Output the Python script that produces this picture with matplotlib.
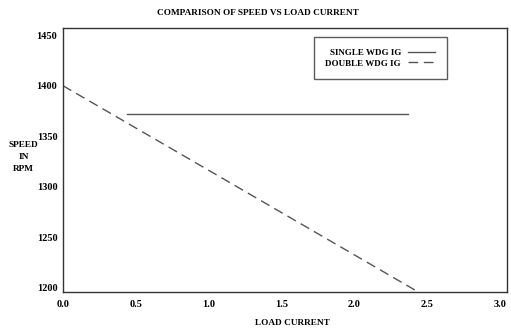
import matplotlib.pyplot as plt

plt.rcParams['font.family'] = ['Liberation Serif', 'DejaVu Serif']

# single winding IG: roughly constant speed
single_i = [0.44, 2.37]
single_n = [1372, 1372]

# double winding IG: falls linearly with load
double_i = [0.0, 2.43]
double_n = [1400, 1197]

xticks = [0.0, 0.5, 1.0, 1.5, 2.0, 2.5, 3.0]
yticks = [1200, 1250, 1300, 1350, 1400, 1450]

fig = plt.figure(figsize=(5.11, 3.33), dpi=100)
ax = fig.add_axes([0.123, 0.123, 0.869, 0.793])

ax.plot(single_i, single_n, '-', color='#555555', lw=1.0, label='SINGLE WDG IG')
ax.plot(double_i, double_n, '--', color='#555555', lw=1.0, dashes=(7, 4),
        label='DOUBLE WDG IG')

ax.set_xlim(0, 3.05)
ax.set_ylim(1196, 1457)
ax.set_xticks(xticks)
ax.set_xticklabels([f'{v:.1f}' for v in xticks])
ax.set_yticks(yticks)
ax.tick_params(length=0, labelsize=7.5)
ax.tick_params(axis='x', pad=6)
ax.tick_params(axis='y', pad=4)
for lab in ax.get_xticklabels() + ax.get_yticklabels():
    lab.set_fontweight('bold')
for s in ax.spines.values():
    s.set_color('#333333')
    s.set_linewidth(1.0)

fig.text(0.505, 0.96, 'COMPARISON OF SPEED VS LOAD CURRENT', ha='center',
         va='center', fontsize=6.7, fontweight='bold')
fig.text(0.573, 0.03, 'LOAD CURRENT', ha='center', va='center',
         fontsize=6.7, fontweight='bold')
fig.text(0.046, 0.528, 'SPEED\nIN\nRPM', ha='center', va='center',
         fontsize=6.7, fontweight='bold', linespacing=1.7)

leg = ax.legend(loc='upper right', bbox_to_anchor=(0.865, 0.966), markerfirst=False,
                frameon=True, fancybox=False, handlelength=3.0,
                borderpad=1.3, labelspacing=0.25, borderaxespad=0,
                prop={'weight': 'bold', 'size': 6.5})
leg.get_frame().set_edgecolor('#333333')
leg.get_frame().set_linewidth(1.0)

fig.savefig('out.png', dpi=100)
